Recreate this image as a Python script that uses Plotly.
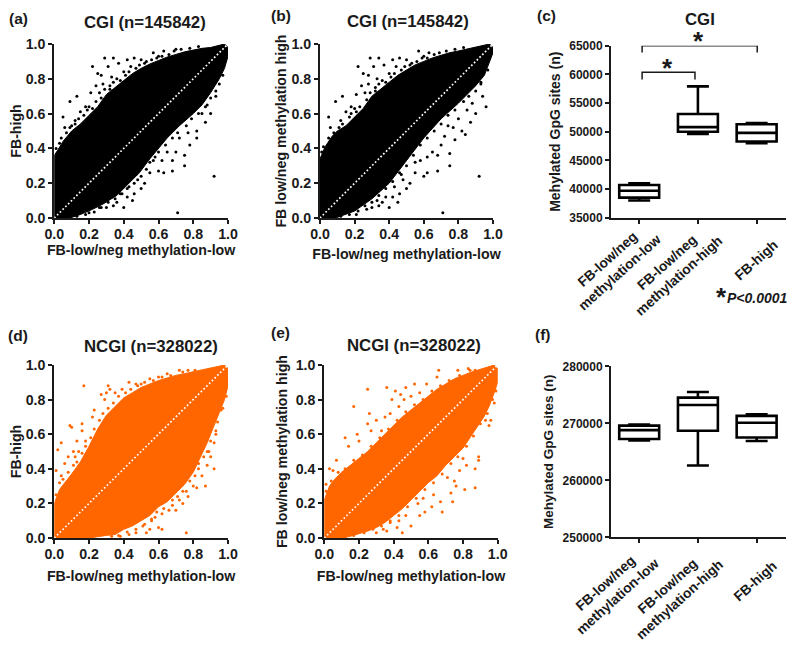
import plotly.graph_objects as go

W, H = 800, 649
OFF = 8  # the page's own body margin moves the figure by this many pixels
FONT = "Liberation Sans"
BLACK = "#000000"
ORANGE = "#FF6600"
INK = "#1a1a1a"

# ---------- scatter cloud outlines (x, y) ----------
a_edge = [(0,0),(0,.36),(.02,.39),(.05,.44),(.1,.5),(.15,.54),(.2,.59),(.25,.64),(.3,.71),(.35,.75),(.4,.79),(.45,.83),(.5,.86),(.55,.885),(.6,.905),(.65,.925),(.7,.94),(.75,.955),(.8,.965),(.85,.975),(.9,.98),(.95,.99),(.98,1),(1,.98),(1,.93),(.98,.86),(.95,.8),(.9,.72),(.85,.65),(.8,.6),(.72,.53),(.65,.46),(.6,.4),(.55,.34),(.49,.26),(.42,.19),(.36,.13),(.28,.08),(.22,.05),(.15,.02),(.09,0)]
b_edge = [(0,0),(0,.34),(.03,.41),(.07,.47),(.1,.5),(.15,.53),(.2,.58),(.25,.63),(.3,.7),(.35,.74),(.4,.78),(.45,.82),(.5,.85),(.55,.88),(.6,.9),(.65,.92),(.7,.935),(.75,.95),(.8,.96),(.85,.97),(.9,.98),(.95,.99),(.98,1),(1,.98),(1,.95),(.95,.82),(.9,.76),(.8,.66),(.7,.57),(.6,.46),(.5,.33),(.4,.2),(.3,.11),(.2,.04),(.09,0)]
d_edge = [(0,0),(0,.2),(.03,.28),(.07,.33),(.1,.37),(.15,.44),(.2,.53),(.25,.63),(.3,.71),(.35,.76),(.4,.81),(.45,.84),(.5,.87),(.55,.89),(.6,.91),(.65,.925),(.7,.94),(.75,.95),(.8,.96),(.85,.97),(.9,.98),(.95,.99),(.98,1),(1,.98),(1,.88),(.98,.8),(.95,.72),(.92,.65),(.88,.55),(.84,.46),(.8,.38),(.75,.31),(.7,.26),(.65,.21),(.6,.18),(.55,.13),(.5,.1),(.45,.07),(.4,.05),(.35,.02),(.3,.015),(.2,0)]
e_edge = [(0,0),(0,.22),(.03,.3),(.06,.34),(.1,.38),(.15,.42),(.2,.46),(.25,.5),(.3,.55),(.35,.6),(.4,.65),(.45,.7),(.5,.74),(.55,.78),(.6,.82),(.65,.86),(.7,.89),(.75,.92),(.8,.94),(.85,.96),(.9,.975),(.95,.99),(.98,1),(1,.98),(1,.9),(.98,.84),(.95,.76),(.92,.7),(.88,.64),(.84,.58),(.8,.52),(.75,.47),(.7,.42),(.65,.36),(.6,.32),(.55,.27),(.5,.22),(.45,.17),(.4,.13),(.35,.09),(.3,.06),(.25,.04),(.2,.025),(.15,.01),(.1,0)]

# ---------- sparse points outside the dense clouds ----------
a_pts = [(.92,.24),(.71,.03),(.29,.92),(.34,.92),(.22,.87),(.25,.83),(.13,.7),(.09,.67),(.05,.58),(.06,.52),(.31,.87),(.27,.82),(.33,.81),(.28,.77),(.24,.76),(.21,.72),(.26,.72),(.18,.64),(.15,.61),(.12,.56),(.1,.53),(.37,.89),(.42,.91),(.46,.92),(.5,.91),(.57,.95),(.63,.96),(.7,.97),(.75,.30),(.75,.36),(.68,.27),(.63,.26),(.6,.27),(.62,.33),(.55,.26),(.52,.2),(.5,.17),(.46,.14),(.45,.1),(.42,.12),(.4,.06),(.36,.09),(.34,.07),(.3,.06),(.78,.42),(.82,.5),(.82,.46),(.87,.55),(.9,.6),(.93,.7),(.7,.38),(.72,.46),(.65,.38),(.58,.35),(.55,.32),(.48,.22),(.47,.25),(.43,.18),(.38,.14),(.33,.12),(.27,.06),(.2,.03),(.4,.84),(.36,.8),(.32,.76),(.2,.64),(.17,.59),(.14,.57),(.44,.87),(.53,.9),(.6,.93),(.68,.33),(.77,.49),(.85,.6),(.88,.65),(.95,.77)]
a_fringe = [(.01,.4),(.03,.43),(.04,.46),(.07,.49),(.09,.52),(.12,.54),(.19,.62),(.22,.63),(.24,.67),(.27,.69),(.29,.74),(.32,.74),(.34,.78),(.38,.79),(.41,.82),(.43,.84),(.47,.86),(.49,.88),(.52,.89),(.56,.91),(.59,.92),(.62,.93),(.66,.94),(.69,.96),(.73,.97),(.78,.975),(.83,.985),(.97,.82),(.93,.73),(.9,.69),(.87,.64),(.83,.6),(.79,.57),(.76,.53),(.71,.49),(.68,.46),(.64,.42),(.6,.38),(.57,.33),(.53,.28),(.5,.24),(.46,.2),(.42,.17),(.39,.14),(.35,.11),(.31,.09),(.26,.06),(.23,.035),(.18,.02),(.13,.01)]
b_pts = [(.92,.24),(.71,.03),(.29,.92),(.34,.92),(.22,.87),(.25,.83),(.13,.7),(.09,.67),(.05,.58),(.06,.52),(.31,.87),(.28,.82),(.33,.8),(.28,.77),(.24,.76),(.21,.71),(.26,.72),(.18,.64),(.15,.61),(.12,.56),(.37,.88),(.42,.91),(.46,.92),(.5,.91),(.57,.96),(.63,.95),(.75,.3),(.75,.37),(.68,.27),(.62,.26),(.6,.24),(.62,.35),(.55,.26),(.52,.2),(.5,.17),(.46,.14),(.45,.09),(.42,.12),(.4,.06),(.36,.09),(.34,.07),(.3,.06),(.78,.45),(.82,.5),(.84,.48),(.87,.55),(.9,.6),(.96,.64),(.94,.7),(.7,.42),(.72,.47),(.65,.38),(.58,.33),(.55,.32),(.48,.22),(.47,.25),(.43,.18),(.38,.12),(.33,.1),(.27,.05),(.21,.02),(.4,.83),(.36,.79),(.32,.75),(.2,.63),(.17,.58),(.44,.87),(.53,.89),(.6,.93),(.68,.36),(.77,.52),(.85,.62),(.88,.66),(.93,.77),(.74,.53),(.8,.57)]
b_fringe = [(.01,.38),(.02,.41),(.05,.46),(.08,.49),(.11,.52),(.13,.54),(.18,.6),(.21,.61),(.23,.64),(.27,.68),(.29,.72),(.32,.73),(.34,.77),(.38,.78),(.41,.81),(.43,.83),(.47,.85),(.49,.87),(.52,.88),(.56,.9),(.59,.92),(.62,.92),(.66,.94),(.69,.95),(.73,.96),(.78,.97),(.83,.98),(.97,.85),(.93,.78),(.9,.73),(.86,.7),(.83,.67),(.78,.62),(.74,.59),(.7,.54),(.66,.5),(.62,.46),(.58,.42),(.54,.36),(.5,.3),(.46,.26),(.42,.21),(.38,.17),(.34,.13),(.3,.09),(.26,.07),(.22,.04),(.17,.02),(.12,.01)]
d_pts = [(.17,.88),(.31,.88),(.76,.03),(.04,.55),(.02,.51),(.09,.65),(.1,.64),(.16,.66),(.13,.56),(.11,.5),(.08,.47),(.06,.43),(.01,.39),(.04,.36),(.23,.74),(.22,.7),(.29,.8),(.27,.83),(.3,.84),(.32,.86),(.35,.84),(.39,.86),(.43,.9),(.47,.89),(.5,.89),(.55,.92),(.6,.93),(.65,.95),(.72,.97),(.77,.97),(.16,.62),(.18,.56),(.14,.5),(.12,.47),(.96,.74),(.93,.62),(.92,.55),(.9,.47),(.92,.4),(.88,.42),(.85,.36),(.82,.29),(.87,.3),(.8,.3),(.77,.24),(.74,.2),(.72,.22),(.7,.16),(.66,.16),(.62,.14),(.6,.06),(.62,.05),(.56,.1),(.55,.05),(.51,.07),(.47,.03),(.43,.02),(.38,.01),(.53,.03),(.76,.27),(.83,.4),(.89,.5),(.68,.19),(.58,.12)]
d_fringe = [(.01,.25),(.03,.32),(.05,.34),(.08,.38),(.11,.42),(.13,.44),(.16,.49),(.18,.53),(.21,.58),(.23,.63),(.26,.68),(.28,.72),(.31,.75),(.34,.78),(.37,.82),(.41,.84),(.44,.86),(.48,.88),(.52,.9),(.57,.91),(.62,.93),(.67,.94),(.74,.96),(.81,.97),(.99,.82),(.97,.75),(.94,.67),(.93,.6),(.9,.56),(.88,.5),(.86,.47),(.83,.43),(.81,.36),(.78,.33),(.74,.27),(.71,.24),(.68,.22),(.63,.17),(.59,.15),(.56,.11),(.52,.08),(.47,.05),(.42,.035),(.37,.015),(.33,.01)]
e_pts = [(.17,.76),(.25,.86),(.36,.87),(.44,.83),(.46,.8),(.52,.89),(.47,.87),(.41,.85),(.39,.8),(.38,.72),(.3,.68),(.25,.66),(.26,.72),(.27,.62),(.19,.6),(.12,.58),(.2,.56),(.14,.53),(.07,.45),(.03,.4),(.05,.39),(.01,.31),(.33,.62),(.35,.7),(.43,.76),(.5,.82),(.55,.84),(.59,.89),(.65,.93),(.66,.97),(.77,.97),(.83,.98),(.87,.97),(.87,.29),(.81,.28),(.89,.47),(.89,.45),(.95,.65),(.96,.68),(.92,.72),(.87,.4),(.82,.42),(.78,.39),(.8,.46),(.75,.33),(.76,.3),(.73,.26),(.74,.21),(.68,.15),(.67,.21),(.62,.18),(.58,.15),(.55,.13),(.54,.2),(.5,.07),(.45,.03),(.42,.06),(.38,.09),(.36,.04),(.3,.03),(.71,.35),(.63,.25),(.57,.23),(.47,.13),(.43,.1),(.34,.05),(.93,.68),(.98,.78)]
e_fringe = [(.01,.27),(.04,.33),(.08,.38),(.12,.4),(.17,.45),(.22,.48),(.27,.53),(.32,.58),(.37,.63),(.42,.68),(.47,.73),(.52,.77),(.57,.8),(.62,.85),(.67,.88),(.72,.91),(.78,.94),(.84,.97),(.99,.85),(.97,.8),(.94,.72),(.9,.66),(.86,.59),(.82,.53),(.77,.47),(.73,.43),(.68,.37),(.63,.32),(.58,.28),(.53,.23),(.48,.18),(.43,.13),(.38,.1),(.33,.07),(.28,.05),(.23,.03),(.17,.015),(.12,.005)]

diag_x = [0, 1]
diag_y = [0, 1]
ticks01 = [0, .2, .4, .6, .8, 1]

# ---------- box data ----------
box_cats = ["FB-low/neg<br>methylation-low", "FB-low/neg<br>methylation-high", "FB-high"]
c_low = [38000, 49600, 48000]
c_q1 = [38500, 50000, 48300]
c_med = [39700, 50800, 49800]
c_q3 = [40700, 53100, 51300]
c_high = [41000, 57900, 51500]
c_ticks = [35000, 40000, 45000, 50000, 55000, 60000, 65000]

f_low = [267000, 262600, 266900]
f_q1 = [267250, 268700, 267500]
f_med = [268800, 273200, 270100]
f_q3 = [269600, 274500, 271300]
f_high = [269800, 275500, 271600]
f_ticks = [250000, 260000, 270000, 280000]

bracket_long_x = [.05, .05, 2.01, 2.01]
bracket_long_y = [63800, 65000, 65000, 63800]
bracket_short_x = [.05, .05, .95, .95]
bracket_short_y = [59100, 60350, 60350, 59100]

fig = go.Figure()


def dom_x(a, b):
    return [(a - OFF) / W, (b - OFF) / W]


def dom_y(top, bottom):
    return [1 - (bottom - OFF) / H, 1 - (top - OFF) / H]


def axis_common():
    return dict(showgrid=False, zeroline=False, showline=True, linecolor=INK, linewidth=2, automargin=False,
                ticks="outside", ticklen=4, tickwidth=2, tickcolor=INK)


def scatter_panel(n, edge, pts, fringe, color, box, xtitle, ytitle, xstand, ystand):
    xa, ya = ("x" + n, "y" + n)
    ex, ey = zip(*edge)
    px, py = zip(*(pts + fringe))
    fig.add_trace(go.Scatter(x=ex, y=ey, xaxis=xa, yaxis=ya, mode="lines", fill="toself", fillcolor=color,
                             line=dict(color=color, width=1), showlegend=False, hoverinfo="skip"))
    fig.add_trace(go.Scatter(x=px, y=py, xaxis=xa, yaxis=ya, mode="markers",
                             marker=dict(color=color, size=3), showlegend=False))
    fig.add_trace(go.Scatter(x=diag_x, y=diag_y, xaxis=xa, yaxis=ya, mode="lines",
                             line=dict(color="#ffffff", width=1.7, dash="1.7px,2.2px"), showlegend=False))
    tf = dict(family=FONT, size=14.2, color=INK, weight="bold")
    fig.update_layout({
        "xaxis" + n: dict(axis_common(), domain=dom_x(box[0], box[1]), range=[0, 1], anchor=ya,
                          tickvals=ticks01, tickformat=".1f", tickfont=tf, ticklabelstandoff=-2,
                          title=dict(text=xtitle, font=dict(family=FONT, size=14.2, color=INK, weight="bold"), standoff=xstand)),
        "yaxis" + n: dict(axis_common(), domain=dom_y(box[2], box[3]), range=[0, 1], anchor=xa,
                          tickvals=ticks01, tickformat=".1f", tickfont=tf,
                          title=dict(text=ytitle, font=dict(family=FONT, size=14.2, color=INK, weight="bold"), standoff=ystand)),
    })


def box_panel(n, low, q1, med, q3, high, box, yrange, yticks, title_size, ystand, cat_xy):
    xa, ya = ("x" + n, "y" + n)
    for i in range(3):
        fig.add_trace(go.Box(x=[i], lowerfence=[low[i]], q1=[q1[i]], median=[med[i]], q3=[q3[i]], upperfence=[high[i]],
                             xaxis=xa, yaxis=ya, width=.68, whiskerwidth=.55, fillcolor="rgba(0,0,0,0)",
                             line=dict(color=BLACK, width=2.6), showlegend=False, boxpoints=False))
        fig.add_annotation(text=box_cats[i], xref="paper", yref="paper",
                           x=(cat_xy[i][0] - OFF) / W, y=1 - (cat_xy[i][1] - OFF) / H, showarrow=False,
                           textangle=-42, xanchor="center", yanchor="middle", align="center",
                           font=dict(family=FONT, size=13.8, color=INK, weight=600))
    fig.update_layout({
        "xaxis" + n: dict(axis_common(), domain=dom_x(box[0], box[1]), range=[-.48, 2.5], anchor=ya,
                          tickvals=[0, 1, 2], showticklabels=False),
        "yaxis" + n: dict(axis_common(), domain=dom_y(box[2], box[3]), range=yrange, anchor=xa,
                          tickvals=yticks, tickformat="d",
                          tickfont=dict(family=FONT, size=12, color=INK, weight=600),
                          title=dict(text="Mehylated GpG sites (n)",
                                     font=dict(family=FONT, size=title_size, color=INK, weight=600), standoff=ystand)),
    })


XT = "FB-low/neg methylation-low"
YT2 = "FB low/neg methylation high"
scatter_panel("", a_edge, a_pts, a_fringe, BLACK, (54.3, 228, 44, 218), XT, "FB-high", 4, 2)
scatter_panel("2", b_edge, b_pts, b_fringe, BLACK, (320, 493, 44, 218), XT, YT2, 8, 1)
box_panel("3", c_low, c_q1, c_med, c_q3, c_high, (611, 786, 45.7, 217.7), [35000, 65000], c_ticks, 14, 5,
          [(613, 266), (673, 270), (756, 260)])
scatter_panel("4", d_edge, d_pts, d_fringe, ORANGE, (54.3, 228, 365, 538), XT, "FB-high", 10, 2)
scatter_panel("5", e_edge, e_pts, e_fringe, ORANGE, (324.3, 497.7, 365, 538), XT, YT2, 10, 5)
box_panel("6", f_low, f_q1, f_med, f_q3, f_high, (611, 786, 366.3, 537.3), [250000, 280000], f_ticks, 13.5, 6,
          [(611, 590), (673, 593), (755, 581)])

for bx, by in ((bracket_long_x, bracket_long_y), (bracket_short_x, bracket_short_y)):
    fig.add_trace(go.Scatter(x=bx, y=by, xaxis="x3", yaxis="y3", mode="lines",
                             line=dict(color=INK, width=1.5), showlegend=False, cliponaxis=False))


def label(text, px, py, size=14, weight="bold", italic=False):
    fig.add_annotation(text=text, xref="paper", yref="paper", x=(px - OFF) / W, y=1 - (py - OFF) / H, showarrow=False,
                       xanchor="center", yanchor="middle",
                       font=dict(family=FONT, size=size, color=INK, weight=weight, style="italic" if italic else "normal"))


for t, px, py in (("(a)", 18, 18), ("(b)", 281, 15), ("(c)", 546, 16), ("(d)", 18, 335), ("(e)", 280, 332), ("(f)", 543, 334)):
    label(t, px, py, size=15.5, weight=600)
label("CGI (n=145842)", 145, 23, 16.8)
label("CGI (n=145842)", 407.5, 22, 16.8)
label("CGI", 700, 20, 16.8)
label("NCGI (n=328022)", 151, 346, 16.8)
label("NCGI (n=328022)", 414, 345, 16.8)
label("*", 698, 41, 26)
label("*", 667, 68, 26)
label("*", 721, 297, 26)
label("P&lt;0.0001", 757, 298, 14, italic=True)

fig.update_layout(width=W, height=H, margin=dict(l=0, r=0, t=0, b=0), paper_bgcolor="white", plot_bgcolor="white",
                  font=dict(family=FONT), showlegend=False, boxmode="overlay")
fig.write_html("out.html")
